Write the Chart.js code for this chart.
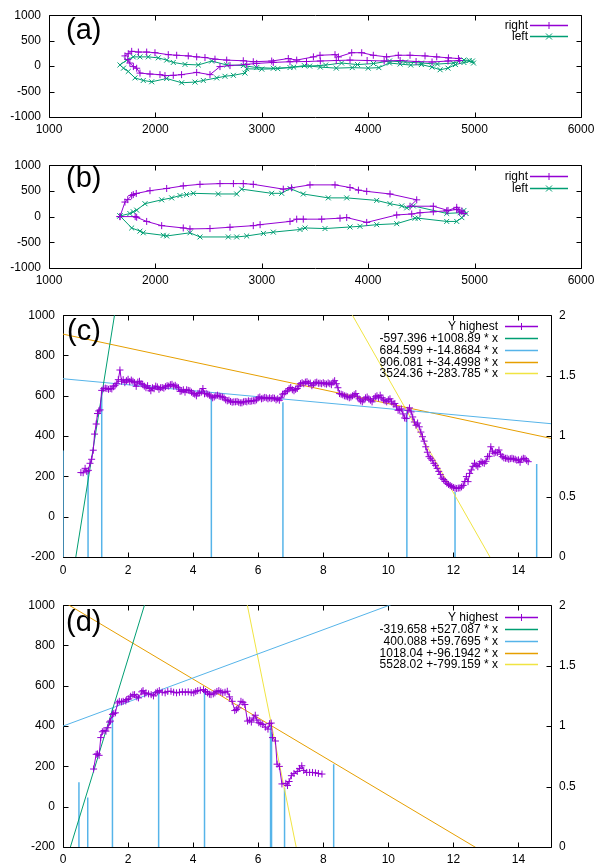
<!DOCTYPE html>
<html>
<head>
<meta charset="utf-8">
<script src="https://cdn.jsdelivr.net/npm/chart.js@4.4.0/dist/chart.umd.min.js"></script>
<style>
body { margin: 0; background: #fff; width: 601px; height: 863px; position: relative; overflow: hidden; }
canvas { position: absolute; left: 0; }
</style>
</head>
<body>
<canvas id="pa" width="601" height="140" style="top:0px"></canvas>
<canvas id="pb" width="601" height="140" style="top:150px"></canvas>
<canvas id="pc" width="601" height="280" style="top:300px"></canvas>
<canvas id="pd" width="601" height="273" style="top:590px"></canvas>
<script>
// Panel (a): right / left traces
const aRightX = [1714,1745,1777,1840,1918,1996,2121,2200,2309,2388,2466,2560,2670,2826,2920,3093,3249,3328,3485,3547,3688,3720,3845,3939,4048,4173,4283,4393,4534,4644,4754,4848,4860,4750,4600,4450,4300,4150,3990,3829,3700,3550,3420,3265,3108,2952,2858,2701,2607,2513,2388,2246,2168,2090,2043,1949,1855,1824,1793,1760,1740];
const aRightY = [200,244,290,276,276,263,225,213,200,181,168,137,118,105,86,99,149,118,181,213,225,180,263,263,213,181,213,213,200,181,162,149,110,100,80,90,110,100,110,118,110,100,90,86,72,53,34,10,-10,-168,-124,-168,-181,-187,-168,-156,-137,-42,-10,60,130];
const aLeftX = [1667,1730,1792,1855,1933,2027,2106,2168,2278,2403,2529,2670,2826,2952,3108,3265,3400,3550,3700,3850,4000,4100,4200,4300,4400,4500,4600,4676,4750,4820,4900,4980,4990,4950,4900,4800,4650,4500,4350,4200,4050,3900,3750,3600,3450,3300,3150,3000,2858,2842,2733,2654,2576,2450,2372,2247,2106,1965,1886,1808,1745,1700];
const aLeftY = [23,118,181,181,181,162,118,72,34,23,99,23,10,-29,-42,-29,10,-20,-40,-30,-40,-30,60,40,20,30,-20,-72,-40,30,70,100,60,110,120,60,40,60,80,100,50,30,60,20,0,-20,-50,-60,-53,-137,-181,-200,-232,-282,-314,-327,-244,-308,-282,-232,-105,-40];

// Panel (b): right / left traces
const bRightX = [1667,1714,1740,1777,1792,1820,1949,2106,2262,2419,2607,2733,2826,2920,3202,3280,3453,3688,3829,3908,3986,4205,4456,4393,4612,4750,4832,4880,4900,4860,4832,4738,4612,4487,4409,4268,3986,3798,3735,3563,3390,3328,3265,2984,2920,2701,2513,2325,2262,2059,1918,1824,1810,1667];
const bRightY = [0,283,330,409,428,450,504,547,598,628,642,642,642,628,534,560,617,617,566,515,491,440,326,202,202,120,180,110,60,90,138,113,94,75,51,32,-113,-19,-31,-50,-50,-50,-94,-157,-176,-207,-233,-240,-221,-176,-94,-13,0,0];
const bLeftX = [1667,1760,1792,1824,1902,2059,2153,2231,2293,2356,2591,2764,2811,3093,3187,3265,3390,3625,3798,4080,4205,4315,4362,4424,4738,4864,4900,4920,4880,4832,4738,4470,4440,4268,4080,3923,3829,3594,3406,3359,3108,3015,2858,2764,2685,2419,2325,2106,2074,1886,1855,1777,1667];
const bLeftY = [13,60,94,126,251,326,364,409,428,453,440,440,534,453,453,547,440,364,364,315,251,208,170,208,62,75,120,60,-20,-94,-94,-31,-31,-138,-157,-189,-202,-233,-221,-251,-302,-327,-377,-396,-396,-396,-315,-377,-364,-315,-283,-221,13];

// Panel (c): Y highest
const cX = [0.55,0.62,0.68,0.73,0.78,0.83,0.88,0.93,0.97,1.02,
  1.06,1.1,1.14,1.19,1.25,1.3,1.35,1.4,1.45,1.5,
  1.55,1.6,1.65,1.7,1.75,1.8,1.85,1.9,1.95,2,
  2.05,2.1,2.15,2.2,2.25,2.3,2.35,2.4,2.45,2.5,
  2.55,2.6,2.65,2.7,2.75,2.8,2.85,2.9,2.95,3,
  3.05,3.1,3.15,3.2,3.25,3.3,3.35,3.4,3.45,3.5,
  3.55,3.6,3.65,3.7,3.75,3.8,3.85,3.9,3.95,4,
  4.05,4.1,4.15,4.2,4.25,4.3,4.35,4.4,4.45,4.5,
  4.55,4.6,4.65,4.7,4.75,4.8,4.85,4.9,4.95,5,
  5.05,5.1,5.15,5.2,5.25,5.3,5.35,5.4,5.45,5.5,
  5.55,5.6,5.65,5.7,5.75,5.8,5.85,5.9,5.95,6,
  6.05,6.1,6.15,6.2,6.25,6.3,6.35,6.4,6.45,6.5,
  6.55,6.6,6.65,6.7,6.75,6.8,6.85,6.9,6.95,7,
  7.05,7.1,7.15,7.2,7.25,7.3,7.35,7.4,7.45,7.5,
  7.55,7.6,7.65,7.7,7.75,7.8,7.85,7.9,7.95,8,
  8.05,8.1,8.15,8.2,8.25,8.3,8.35,8.4,8.45,8.5,
  8.55,8.6,8.65,8.7,8.75,8.8,8.85,8.9,8.95,9,
  9.05,9.1,9.15,9.2,9.25,9.3,9.35,9.4,9.45,9.5,
  9.55,9.6,9.65,9.7,9.75,9.8,9.85,9.9,9.95,10,
  10.05,10.1,10.15,10.2,10.25,10.3,10.35,10.4,10.45,10.5,
  10.55,10.6,10.65,10.7,10.75,10.8,10.85,10.9,10.95,11,
  11.05,11.1,11.15,11.2,11.25,11.3,11.35,11.4,11.45,11.5,
  11.55,11.6,11.65,11.7,11.75,11.8,11.85,11.9,11.95,12,
  12.05,12.1,12.15,12.2,12.25,12.3,12.35,12.4,12.45,12.5,
  12.55,12.6,12.65,12.7,12.75,12.8,12.85,12.9,12.95,13,
  13.05,13.1,13.15,13.2,13.25,13.3,13.35,13.4,13.45,13.5,
  13.55,13.6,13.65,13.7,13.75,13.8,13.85,13.9,13.95,14,
  14.05,14.1,14.15,14.2,14.25,14.3];
const cY = [219,218,240,225,230,265,285,330,410,460,
  512,525,530,627,635,638,636,632,636,634,
  645,652,660,680,728,672,680,665,675,682,
  670,678,672,665,647,668,672,660,657,648,
  640,650,636,625,640,635,648,644,632,640,
  641,638,645,650,648,655,657,648,652,644,
  640,622,624,630,618,630,627,625,618,612,
  608,600,612,615,618,636,610,612,608,603,
  598,590,594,600,603,598,596,594,590,580,
  575,578,572,568,570,570,572,568,565,565,
  570,572,570,575,572,574,576,575,580,590,
  594,585,588,592,590,585,590,586,590,588,
  580,585,578,590,608,612,620,625,635,641,
  630,625,632,636,648,660,665,660,668,670,
  662,663,650,658,665,668,662,663,660,665,
  660,658,664,660,655,668,675,660,640,611,
  608,605,600,598,595,590,594,600,605,611,
  595,585,575,570,580,590,594,585,578,570,
  585,595,600,590,603,590,580,575,570,580,
  585,570,560,562,545,528,530,535,510,490,
  487,528,540,520,495,470,454,465,446,420,
  397,375,347,320,298,290,280,265,255,240,
  225,210,191,185,175,166,160,155,150,145,
  142,140,142,143,148,155,175,199,174,215,
  232,250,265,255,248,262,273,268,265,275,
  298,300,347,325,315,320,318,331,310,298,
  292,290,290,285,288,290,287,285,280,282,
  270,285,290,288,280,273];
const cFits = [[-597.396, 1008.89], [684.599, -14.8684], [906.081, -34.4998], [3524.36, -283.785]];
const cImpX = [0, 0.77, 1.19, 4.56, 6.76, 10.57, 12.05, 14.56];
const cImpH = [0.88, 0.72, 1.37, 1.32, 1.28, 1.21, 0.54, 0.77];

// Panel (d): Y highest
const dX = [0.94,1.02,1.06,1.11,1.16,1.21,1.26,1.32,1.38,1.43,
  1.46,1.52,1.56,1.61,1.68,1.73,1.8,1.85,1.93,1.96,
  2.02,2.08,2.15,2.2,2.27,2.32,2.42,2.46,2.51,2.55,
  2.63,2.71,2.78,2.85,2.9,2.96,3.05,3.14,3.22,3.32,
  3.4,3.49,3.58,3.67,3.76,3.85,3.94,4.02,4.08,4.14,
  4.22,4.32,4.38,4.44,4.5,4.55,4.62,4.67,4.73,4.79,
  4.85,4.91,4.98,5.05,5.12,5.2,5.28,5.33,5.38,5.47,
  5.53,5.59,5.67,5.73,5.79,5.85,5.91,5.96,6.02,6.08,
  6.14,6.22,6.3,6.35,6.4,6.44,6.53,6.58,6.65,6.73,
  6.85,6.9,6.95,7.02,7.1,7.2,7.27,7.34,7.4,7.49,
  7.58,7.67,7.76,7.85,7.96];
const dY = [187,260,262,255,343,372,378,375,392,420,
  425,458,462,466,515,523,520,523,525,532,
  535,548,555,556,545,540,570,576,560,565,
  560,556,550,565,570,576,568,565,572,573,
  568,565,568,570,568,570,566,565,572,576,
  578,581,572,565,558,556,560,565,572,576,
  570,565,568,573,545,523,477,482,490,523,
  518,507,425,430,420,440,454,430,417,412,
  408,395,385,412,415,343,326,211,200,113,
  116,105,125,154,165,175,190,203,180,170,
  170,170,168,165,162];
const dFits = [[-319.658, 527.087], [400.088, 59.7695], [1018.04, -96.1942], [5528.02, -799.159]];
const dImpX = [0.49, 0.76, 1.52, 2.94, 4.35, 6.38, 6.41, 6.81, 8.32];
const dImpH = [0.535, 0.41, 1.15, 1.29, 1.30, 1.01, 0.95, 0.49, 0.685];

const fitRange = [0, 15];

Chart.defaults.font.family = '"Liberation Sans", Arial, sans-serif';
Chart.defaults.font.size = 12;
Chart.defaults.color = '#000';

const purple = '#9400d3', green = '#009e73', sky = '#56b4e9', orange = '#e69f00', yellow = '#f0e442';
const fitColors = [green, sky, orange, yellow];

function pts(xs, ys) {
  return xs.map((x, i) => ({ x: x, y: ys[i] }));
}

function series(label, xs, ys, color, style) {
  return {
    label: label, data: pts(xs, ys), borderColor: color, backgroundColor: color,
    borderWidth: 1, showLine: true, pointStyle: style, pointRadius: 3.5,
    pointBorderWidth: 1, key: style, order: 0
  };
}

function fitLine(c, color) {
  return {
    label: c[0] + ' +' + c[1] + ' * x',
    data: fitRange.map(x => ({ x: x, y: c[0] + c[1] * x })),
    borderColor: color, backgroundColor: color, borderWidth: 1,
    pointRadius: 0, showLine: true, key: 'line', order: 1
  };
}

// vertical sticks from the bottom of the right axis
function impulses(xs, hs) {
  let out = [];
  xs.forEach((x, i) => {
    out.push({ x: x, y: 0 }, { x: x, y: hs[i] }, { x: x, y: null });
  });
  return {
    data: out, yAxisID: 'y2', borderColor: sky, borderWidth: 1.5,
    pointRadius: 0, showLine: true, spanGaps: false, order: 2
  };
}

function axisX(min, max, step, h, pad) {
  return {
    type: 'linear', min: min, max: max, offset: false,
    grid: { display: false, drawTicks: false }, border: { display: false },
    ticks: { stepSize: step, padding: pad, includeBounds: false, autoSkip: false, maxRotation: 0, callback: v => String(v) },
    afterFit: s => { s.height = h; }
  };
}

function axisY(min, max, step, w, pad, pos) {
  return {
    type: 'linear', position: pos, min: min, max: max,
    grid: { display: false, drawTicks: false }, border: { display: false },
    ticks: { stepSize: step, padding: pad, includeBounds: false, autoSkip: false, callback: v => String(v) },
    afterFit: s => { s.width = w; }
  };
}

// gnuplot style frame, inward ticks, key box and panel tag
const gnuplotLook = {
  id: 'gnuplotLook',
  beforeDatasetsDraw(chart) {
    const ctx = chart.ctx, a = chart.chartArea, s = chart.scales;
    const L = Math.round(a.left) + 0.5, R = Math.round(a.right) + 0.5;
    const T = Math.round(a.top) + 0.5, B = Math.round(a.bottom) + 0.5;
    const t = 5;
    ctx.save();
    ctx.strokeStyle = '#000';
    ctx.lineWidth = 1;
    ctx.beginPath();
    ctx.rect(L, T, R - L, B - T);
    s.x.ticks.forEach(tk => {
      const px = Math.round(s.x.getPixelForValue(tk.value)) + 0.5;
      ctx.moveTo(px, B); ctx.lineTo(px, B - t);
      ctx.moveTo(px, T); ctx.lineTo(px, T + t);
    });
    s.y.ticks.forEach(tk => {
      const py = Math.round(s.y.getPixelForValue(tk.value)) + 0.5;
      ctx.moveTo(L, py); ctx.lineTo(L + t, py);
      if (!s.y2) { ctx.moveTo(R, py); ctx.lineTo(R - t, py); }
    });
    if (s.y2) {
      s.y2.ticks.forEach(tk => {
        const py = Math.round(s.y2.getPixelForValue(tk.value)) + 0.5;
        ctx.moveTo(R, py); ctx.lineTo(R - t, py);
      });
    }
    ctx.stroke();
    ctx.restore();
  },
  afterDatasetsDraw(chart, args, opts) {
    const ctx = chart.ctx, a = chart.chartArea;
    ctx.save();

    // key
    const items = chart.data.datasets.filter(d => d.key);
    ctx.font = '12px "Liberation Sans", Arial, sans-serif';
    ctx.textAlign = 'right';
    ctx.textBaseline = 'middle';
    items.forEach((d, i) => {
      const y = Math.round(a.top + opts.keyTop + i * opts.keyStep) + 0.5;
      ctx.fillStyle = '#000';
      ctx.fillText(d.label, a.right - opts.keyText, y);
      const x0 = a.right - opts.keyLine[0], x1 = a.right - opts.keyLine[1];
      const xm = (x0 + x1) / 2;
      ctx.strokeStyle = d.borderColor;
      ctx.lineWidth = 1.5;
      ctx.beginPath();
      ctx.moveTo(x0, y); ctx.lineTo(x1, y);
      ctx.stroke();
      ctx.lineWidth = 1;
      ctx.beginPath();
      if (d.key === 'cross') {
        ctx.moveTo(xm, y - 3.5); ctx.lineTo(xm, y + 3.5);
      } else if (d.key === 'crossRot') {
        ctx.moveTo(xm - 3, y - 3); ctx.lineTo(xm + 3, y + 3);
        ctx.moveTo(xm - 3, y + 3); ctx.lineTo(xm + 3, y - 3);
      }
      ctx.stroke();
    });

    // panel tag
    ctx.fillStyle = '#000';
    ctx.textAlign = 'left';
    ctx.font = '29px "Liberation Sans", Arial, sans-serif';
    ctx.fillText(opts.tag, a.left + opts.tagX, a.top + opts.tagY);
    ctx.restore();
  }
};

function panel(id, datasets, scales, pad, look) {
  return new Chart(document.getElementById(id), {
    type: 'scatter',
    data: { datasets: datasets },
    options: {
      responsive: false,
      animation: false,
      events: [],
      layout: { padding: pad },
      scales: scales,
      plugins: { legend: { display: false }, tooltip: { enabled: false }, gnuplotLook: look }
    },
    plugins: [gnuplotLook]
  });
}

// (a)
panel('pa',
  [series('right', aRightX, aRightY, purple, 'cross'), series('left', aLeftX, aLeftY, green, 'crossRot')],
  { x: axisX(1000, 6000, 1000, 23, 5), y: axisY(-1000, 1000, 500, 49, 8, 'left') },
  { top: 12, right: 20, left: 0, bottom: 0 },
  { tag: '(a)', tagX: 17, tagY: 16, keyTop: 10, keyStep: 11, keyText: 53, keyLine: [51, 13] });

// (b)
panel('pb',
  [series('right', bRightX, bRightY, purple, 'cross'), series('left', bLeftX, bLeftY, green, 'crossRot')],
  { x: axisX(1000, 6000, 1000, 22, 5), y: axisY(-1000, 1000, 500, 49, 8, 'left') },
  { top: 12, right: 20, left: 0, bottom: 0 },
  { tag: '(b)', tagX: 17, tagY: 14, keyTop: 11, keyStep: 12, keyText: 53, keyLine: [51, 13] });

// (c)
panel('pc',
  [series('Y highest', cX, cY, purple, 'cross')]
    .concat(cFits.map((c, i) => fitLine(c, fitColors[i])))
    .concat([impulses(cImpX, cImpH)]),
  { x: axisX(0, 15, 2, 23, 6), y: axisY(-200, 1000, 200, 63, 8, 'left'), y2: axisY(0, 2, 0.5, 50, 8, 'right') },
  { top: 14, right: 0, left: 0, bottom: 0 },
  { tag: '(c)', tagX: 4, tagY: 17, keyTop: 11, keyStep: 11.8, keyText: 53, keyLine: [46, 13] });

// (d)
panel('pd',
  [series('Y highest', dX, dY, purple, 'cross')]
    .concat(dFits.map((c, i) => fitLine(c, fitColors[i])))
    .concat([impulses(dImpX, dImpH)]),
  { x: axisX(0, 15, 2, 16, 5), y: axisY(-200, 1000, 200, 63, 8, 'left'), y2: axisY(0, 2, 0.5, 50, 8, 'right') },
  { top: 13, right: 0, left: 0, bottom: 0 },
  { tag: '(d)', tagX: 3, tagY: 18, keyTop: 12, keyStep: 11.8, keyText: 53, keyLine: [46, 13] });
</script>
</body>
</html>
